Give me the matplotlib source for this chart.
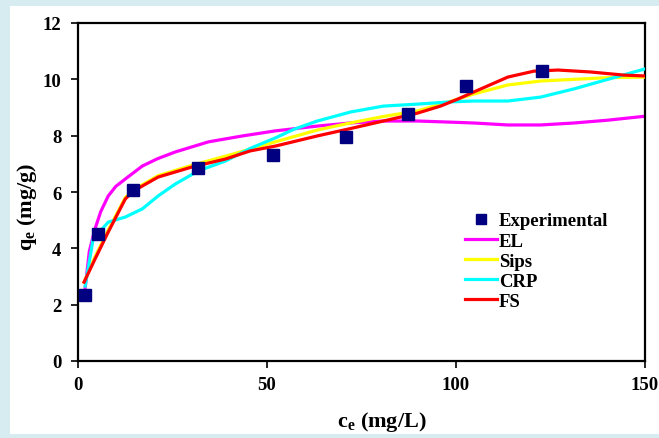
import matplotlib.pyplot as plt
from matplotlib.patches import Rectangle

plt.rcParams['font.family'] = ['Liberation Serif', 'DejaVu Serif']
plt.rcParams['font.weight'] = 'bold'
plt.rcParams['mathtext.fontset'] = 'custom'
plt.rcParams['mathtext.rm'] = 'Liberation Serif:bold'
plt.rcParams['mathtext.it'] = 'Liberation Serif:bold'
plt.rcParams['mathtext.bf'] = 'Liberation Serif:bold'

# experimental points
ce_exp = [1.9, 5.3, 14.6, 31.8, 51.7, 70.8, 87.2, 102.6, 122.7]
qe_exp = [2.34, 4.51, 6.06, 6.84, 7.31, 7.96, 8.76, 9.76, 10.30]

# model curves
ce_el = [1.9, 3.0, 4.5, 6.0, 8.0, 10.0, 12.5, 17.0, 21.0, 25.7, 34.5, 43.5,
         52.2, 63.3, 72.0, 80.8, 89.8, 98.6, 104.7, 113.7, 122.4, 131.2,
         140.2, 150.0]
qe_el = [2.6, 3.9, 4.69, 5.3, 5.86, 6.2, 6.46, 6.92, 7.18, 7.42, 7.78, 7.99,
         8.17, 8.34, 8.45, 8.52, 8.52, 8.48, 8.45, 8.38, 8.38, 8.45,
         8.55, 8.69]

ce_sips = [1.6, 4.5, 8.0, 12.5, 14.6, 21.2, 30.2, 39.0, 52.2, 63.3, 72.0,
           80.8, 89.8, 98.6, 104.7, 113.7, 122.4, 131.2, 140.2, 150.0]
qe_sips = [2.8, 3.7, 4.65, 5.8, 6.07, 6.58, 6.95, 7.27, 7.78, 8.2, 8.45,
           8.68, 8.88, 9.22, 9.48, 9.8, 9.94, 10.0, 10.06, 10.08]

ce_crp = [1.9, 4.0, 8.0, 12.5, 17.0, 21.2, 25.7, 31.8, 39.0, 45.6, 52.2, 57.0,
          63.3, 72.1, 80.8, 89.8, 98.6, 104.7, 113.7, 122.4, 131.2, 140.2, 150.0]
qe_crp = [2.66, 4.33, 4.93, 5.11, 5.4, 5.86, 6.28, 6.75, 7.1, 7.55, 7.92, 8.22,
          8.52, 8.84, 9.05, 9.12, 9.2, 9.23, 9.23, 9.37, 9.66, 10.0, 10.37]

ce_fs = [1.6, 4.5, 8.0, 12.5, 14.6, 21.2, 30.2, 39.0, 45.6, 52.2, 63.3, 72.0,
         80.8, 89.8, 95.9, 100.5, 104.7, 113.7, 120.6, 127.0, 135.7, 144.4, 150.0]
qe_fs = [2.8, 3.62, 4.58, 5.75, 6.03, 6.53, 6.89, 7.17, 7.46, 7.63, 7.99, 8.25,
         8.52, 8.8, 9.05, 9.3, 9.55, 10.08, 10.29, 10.33, 10.26, 10.15, 10.12]

fig = plt.figure(figsize=(6.59, 4.39), dpi=100)
fig.patch.set_facecolor('#d7ecf1')
# white panel behind the chart
fig.patches.append(Rectangle((10 / 659, 4 / 439), 649 / 659, 428 / 439,
                             transform=fig.transFigure, facecolor='white',
                             edgecolor='none', zorder=-10))

ax = fig.add_axes([78 / 659, 77 / 439, 567 / 659, 338 / 439])
ax.set_zorder(5)
ax.set_facecolor('white')

lw = 2.3
ax.plot(ce_el, qe_el, color='#ff00ff', lw=lw, label='EL', zorder=2)
ax.plot(ce_sips, qe_sips, color='#ffff00', lw=lw, label='Sips', zorder=3)
ax.plot(ce_crp, qe_crp, color='#00ffff', lw=lw, label='CRP', zorder=4)
ax.plot(ce_fs, qe_fs, color='#ff0000', lw=lw, label='FS', zorder=5)
ax.plot(ce_exp, qe_exp, 's', color='#000080', ms=8, label='Experimental',
        zorder=6, clip_on=False)

ax.set_xlim(0, 150)
ax.set_ylim(0, 12)
ax.set_xticks([0, 50, 100, 150])
ax.set_yticks([0, 2, 4, 6, 8, 10, 12])

for s in ax.spines.values():
    s.set_linewidth(1.6)
ax.tick_params(axis='both', direction='out', length=5, width=1.2, labelsize=13.5)
ax.tick_params(axis='y', pad=7)
ax.tick_params(axis='x', pad=6)

ax.set_xlabel('c$_{\\mathrm{e}}$ (mg/L)', fontsize=16, fontweight='bold')
ax.set_ylabel('q$_{\\mathrm{e}}$ (mg/g)', fontsize=16, fontweight='bold')
ax.xaxis.set_label_coords(0.536, -0.142)
ax.yaxis.set_label_coords(-0.068, 0.459)

handles, labels = ax.get_legend_handles_labels()
order = [4, 0, 1, 2, 3]
ax.legend([handles[i] for i in order], [labels[i] for i in order],
          loc='upper left', bbox_to_anchor=(0.683, 0.44), frameon=False,
          fontsize=13.5, labelspacing=0.16, handlelength=1.7,
          handletextpad=0.1, borderpad=0, borderaxespad=0, markerscale=0.9)

fig.savefig('out.png', dpi=100, facecolor=fig.get_facecolor())
